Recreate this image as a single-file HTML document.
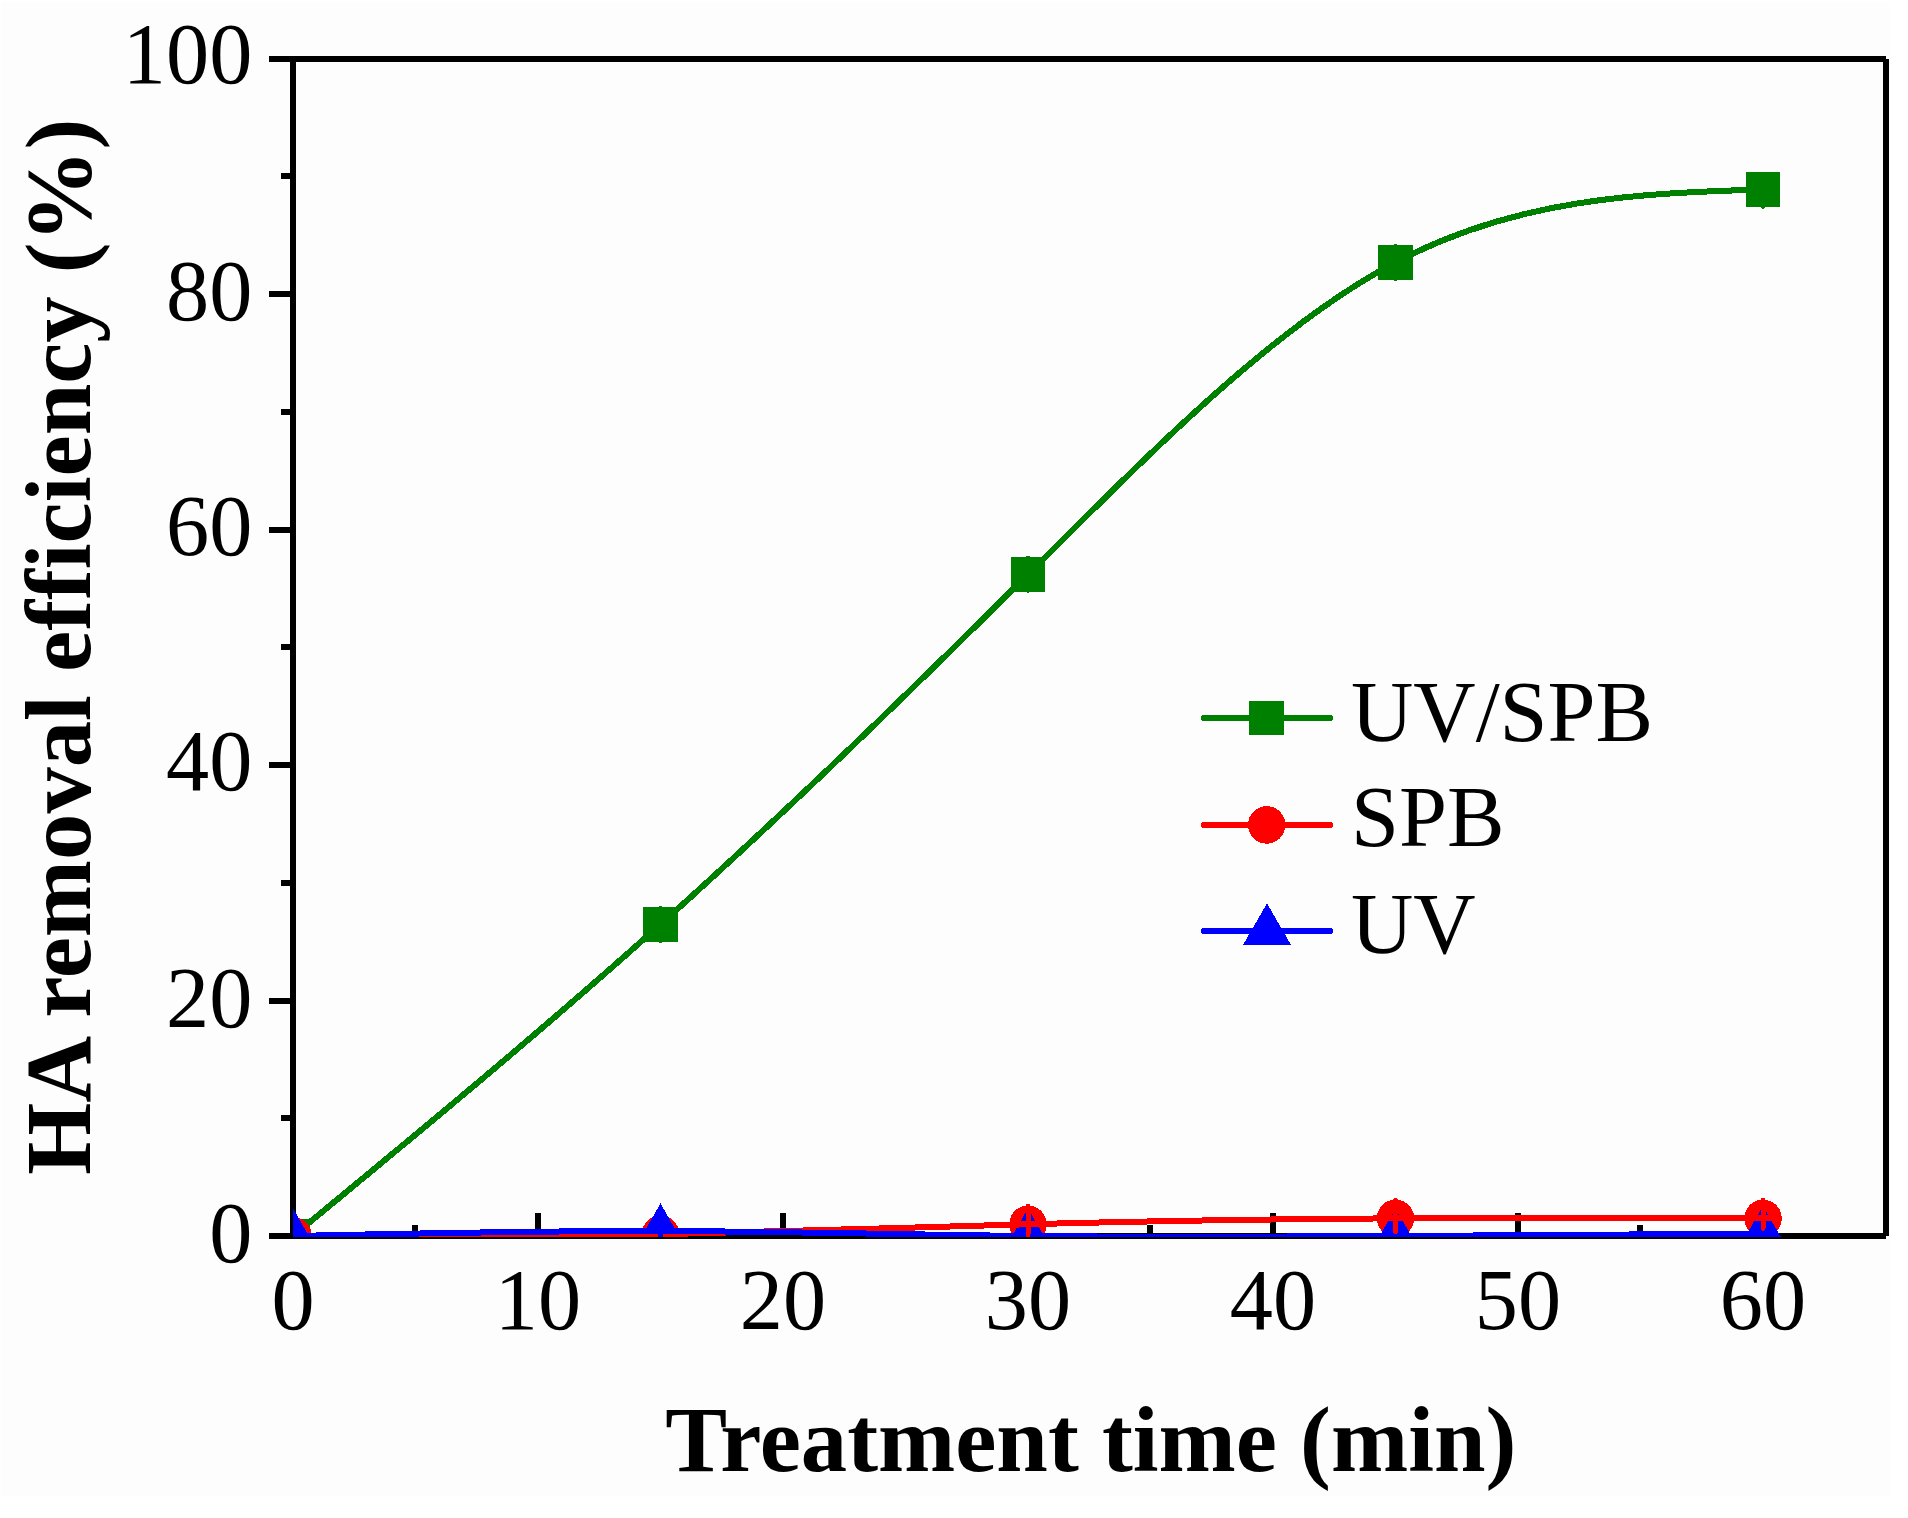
<!DOCTYPE html>
<html><head><meta charset="utf-8"><title>HA removal efficiency</title>
<style>html,body{margin:0;padding:0;background:#fff;}svg{display:block;}</style>
</head><body>
<svg width="1908" height="1518" viewBox="0 0 1908 1518">
<rect width="1908" height="1518" fill="#fff"/>
<rect x="1" y="2" width="1889" height="1494" fill="#fdfdfd"/>
<defs><clipPath id="pc"><rect x="293" y="59" width="1593" height="1178"/></clipPath></defs>
<g fill="#000">
<rect x="269" y="56" width="1617" height="6"/>
<rect x="290" y="56" width="6" height="1183"/>
<rect x="269" y="1233" width="1617" height="6"/>
<rect x="1883" y="59" width="6" height="1177"/>
<rect x="269" y="1233" width="24" height="6"/>
<rect x="281" y="1115" width="12" height="6"/>
<rect x="269" y="998" width="24" height="6"/>
<rect x="281" y="880" width="12" height="6"/>
<rect x="269" y="762" width="24" height="6"/>
<rect x="281" y="644" width="12" height="6"/>
<rect x="269" y="527" width="24" height="6"/>
<rect x="281" y="409" width="12" height="6"/>
<rect x="269" y="291" width="24" height="6"/>
<rect x="281" y="173" width="12" height="6"/>
<rect x="269" y="56" width="24" height="6"/>
<rect x="412" y="1225" width="6" height="11"/>
<rect x="535" y="1213" width="6" height="23"/>
<rect x="657" y="1225" width="6" height="11"/>
<rect x="780" y="1213" width="6" height="23"/>
<rect x="902" y="1225" width="6" height="11"/>
<rect x="1025" y="1213" width="6" height="23"/>
<rect x="1147" y="1225" width="6" height="11"/>
<rect x="1270" y="1213" width="6" height="23"/>
<rect x="1392" y="1225" width="6" height="11"/>
<rect x="1515" y="1213" width="6" height="23"/>
<rect x="1637" y="1225" width="6" height="11"/>
<rect x="1760" y="1213" width="6" height="23"/>
</g>
<g clip-path="url(#pc)" shape-rendering="crispEdges">
<path d="M293.00,1236.00 C415.50,1135.03 538.00,1034.07 660.50,924.37 C783.00,814.67 905.50,696.25 1028.00,574.36 C1150.50,452.47 1273.00,327.11 1395.50,262.37 C1518.00,197.63 1640.50,193.51 1763.00,189.38" fill="none" stroke="#008000" stroke-width="6"/>
<rect x="275.75" y="1218.75" width="34.5" height="34.5" fill="#008000"/>
<rect x="643.25" y="907.12" width="34.5" height="34.5" fill="#008000"/>
<rect x="1010.75" y="557.11" width="34.5" height="34.5" fill="#008000"/>
<rect x="1378.25" y="245.12" width="34.5" height="34.5" fill="#008000"/>
<rect x="1745.75" y="172.13" width="34.5" height="34.5" fill="#008000"/>
<line x1="660.50" y1="907.87" x2="660.50" y2="940.87" stroke="#008000" stroke-width="4" stroke-linecap="round"/>
<line x1="1028.00" y1="557.86" x2="1028.00" y2="590.86" stroke="#008000" stroke-width="4" stroke-linecap="round"/>
<line x1="1395.50" y1="245.87" x2="1395.50" y2="278.87" stroke="#008000" stroke-width="4" stroke-linecap="round"/>
<line x1="1763.00" y1="189.38" x2="1763.00" y2="206.88" stroke="#008000" stroke-width="4" stroke-linecap="round"/>
<circle cx="293.00" cy="1236.00" r="18.75" fill="#ff0000"/>
<circle cx="660.50" cy="1234.23" r="18.75" fill="#ff0000"/>
<circle cx="1028.00" cy="1224.23" r="18.75" fill="#ff0000"/>
<circle cx="1395.50" cy="1218.34" r="18.75" fill="#ff0000"/>
<circle cx="1763.00" cy="1218.34" r="18.75" fill="#ff0000"/>
<path d="M293.00,1208.40 L316.90,1249.80 L269.10,1249.80 Z" fill="#0000ff"/>
<path d="M660.50,1203.46 L684.40,1244.86 L636.60,1244.86 Z" fill="#0000ff"/>
<path d="M1028.00,1208.40 L1051.90,1249.80 L1004.10,1249.80 Z" fill="#0000ff"/>
<path d="M1395.50,1208.40 L1419.40,1249.80 L1371.60,1249.80 Z" fill="#0000ff"/>
<path d="M1763.00,1206.05 L1786.90,1247.45 L1739.10,1247.45 Z" fill="#0000ff"/>
<path d="M293.00,1236.00 C415.50,1236.21 538.00,1236.42 660.50,1234.23 C783.00,1232.05 905.50,1227.46 1028.00,1224.23 C1150.50,1220.99 1273.00,1219.10 1395.50,1218.34 C1518.00,1217.58 1640.50,1217.96 1763.00,1218.34" fill="none" stroke="#ff0000" stroke-width="6"/>
<rect x="647.00" y="1233" width="27" height="5" rx="1.5" fill="#ff0000"/>
<path d="M293.00,1236.00 C415.50,1233.37 538.00,1230.73 660.50,1231.06 C783.00,1231.38 905.50,1234.67 1028.00,1236.00 C1150.50,1237.33 1273.00,1236.72 1395.50,1236.00 C1518.00,1235.28 1640.50,1234.46 1763.00,1233.65" fill="none" stroke="#0000ff" stroke-width="6"/>
<rect x="658.00" y="1222" width="5" height="16" fill="#0000ff"/>
<rect x="1746.00" y="1215.34" width="34" height="6" fill="#ff0000"/>
<line x1="1028.00" y1="1206.43" x2="1028.00" y2="1234.43" stroke="#ff0000" stroke-width="5" stroke-linecap="round"/>
<line x1="1395.50" y1="1200.54" x2="1395.50" y2="1231.24" stroke="#ff0000" stroke-width="5" stroke-linecap="round"/>
<line x1="1763.00" y1="1200.34" x2="1763.00" y2="1228.34" stroke="#ff0000" stroke-width="5" stroke-linecap="round"/>
</g>
<g font-family="'Liberation Serif', 'Times New Roman', serif" font-size="86.3" fill="#000">
<text x="252.3" y="1262.00" text-anchor="end">0</text>
<text x="252.3" y="1026.74" text-anchor="end">20</text>
<text x="252.3" y="790.38" text-anchor="end">40</text>
<text x="252.3" y="554.82" text-anchor="end">60</text>
<text x="252.3" y="319.76" text-anchor="end">80</text>
<text x="252.3" y="83.30" text-anchor="end">100</text>
<text x="293.00" y="1329.4" text-anchor="middle">0</text>
<text x="538.00" y="1329.4" text-anchor="middle">10</text>
<text x="783.00" y="1329.4" text-anchor="middle">20</text>
<text x="1028.00" y="1329.4" text-anchor="middle">30</text>
<text x="1273.00" y="1329.4" text-anchor="middle">40</text>
<text x="1518.00" y="1329.4" text-anchor="middle">50</text>
<text x="1763.00" y="1329.4" text-anchor="middle">60</text>
<g shape-rendering="crispEdges"><line x1="1204" y1="718.00" x2="1330" y2="718.00" stroke="#008000" stroke-width="6" stroke-linecap="round"/>
<rect x="1249.45" y="700.75" width="34.5" height="34.5" fill="#008000"/>
</g>
<text x="1351" y="741.00">UV/SPB</text>
<g shape-rendering="crispEdges"><line x1="1204" y1="824.90" x2="1330" y2="824.90" stroke="#ff0000" stroke-width="6" stroke-linecap="round"/>
<circle cx="1266.70" cy="824.90" r="18.75" fill="#ff0000"/>
</g>
<text x="1351" y="846.40">SPB</text>
<g shape-rendering="crispEdges"><line x1="1204" y1="931.00" x2="1330" y2="931.00" stroke="#0000ff" stroke-width="6" stroke-linecap="round"/>
<path d="M1267.00,903.40 L1290.90,944.80 L1243.10,944.80 Z" fill="#0000ff"/>
</g>
<text x="1351" y="952.50">UV</text>
</g>
<g font-family="'Liberation Serif', 'Times New Roman', serif" font-size="92.7" font-weight="bold" fill="#000">
<text x="1090.8" y="1471.3" text-anchor="middle">Treatment time (min)</text>
<text transform="translate(90,646.8) rotate(-90)" text-anchor="middle">HA removal efficiency (%)</text>
</g>
</svg>
</body></html>
